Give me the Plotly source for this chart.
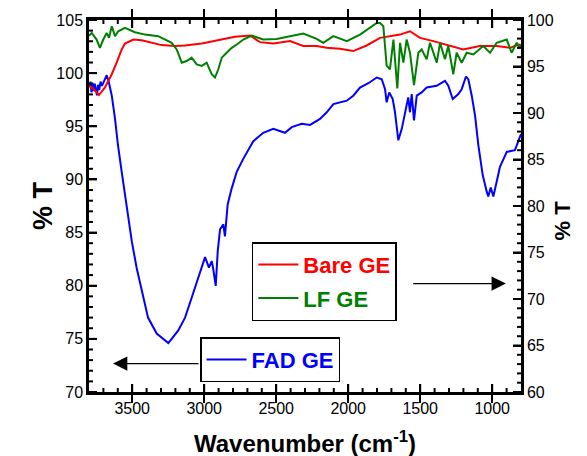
import plotly.graph_objects as go

# ---------------- data ----------------
# FAD GE  -> left axis (% T, 70-105)
wn_fad = [3798, 3790, 3783, 3776, 3768, 3760, 3752, 3745, 3737, 3729, 3720, 3710, 3700, 3690, 3677,
          3665, 3642, 3619, 3599, 3573, 3550, 3529, 3503, 3469, 3434, 3390, 3330, 3249,
          3180, 3133, 3087, 3041, 2994, 2967, 2948, 2937, 2920, 2906, 2890, 2867, 2856,
          2837, 2809, 2774, 2728, 2659, 2590, 2520, 2439, 2392, 2323, 2265, 2196, 2149,
          2103, 2010, 1965, 1918, 1860, 1802, 1767, 1744, 1733, 1715, 1691, 1675, 1652,
          1628, 1599, 1583, 1571, 1559, 1543, 1524, 1490, 1455, 1386, 1328, 1305, 1274,
          1235, 1212, 1182, 1166, 1142, 1119, 1096, 1066, 1038, 1027, 1010, 992, 969,
          946, 899, 865, 842, 812, 800]
t_fad = [98.7, 99.2, 98.2, 99.1, 98.3, 99.0, 98.5, 97.9, 98.9, 98.4, 99.2, 98.8, 99.1, 99.5, 99.8,
         99.3, 97.9, 95.67, 93.24, 90.72, 88.57, 86.33, 84.19, 81.67, 79.52, 77.0, 75.5, 74.6,
         75.8, 77.0, 78.87, 80.73, 82.69, 81.7, 82.32, 81.57, 79.99, 83.25, 85.31, 85.77, 84.65,
         87.64, 89.16, 90.72, 91.96, 93.59, 94.39, 94.76, 94.39, 94.92, 95.23, 95.13, 95.69, 96.32,
         97.09, 97.41, 97.88, 98.65, 99.05, 99.59, 99.43, 98.49, 97.25, 98.19, 97.56, 96.32, 93.68,
         94.76, 96.63, 97.72, 96.32, 98.03, 95.55, 97.88, 98.19, 98.65, 98.81, 99.28, 98.81, 97.56,
         98.03, 98.49, 99.68, 99.43, 97.88, 96.01, 93.21, 90.41, 88.85, 88.39, 89.23, 88.39, 89.79,
         91.19, 92.59, 92.65, 92.75, 93.83, 94.27]

# Bare GE -> right axis (% T, 60-100)
wn_bare = [3800, 3781, 3758, 3731, 3689, 3642, 3608, 3573, 3550, 3492, 3434, 3365, 3295, 3203,
           3133, 3017, 2902, 2786, 2682, 2613, 2520, 2404, 2312, 2219, 2149, 2057, 1965, 1872,
           1779, 1710, 1640, 1571, 1501, 1409, 1293, 1201, 1085, 969, 876, 819, 800]
t_bare = [92.9, 92.75, 92.4, 91.93, 92.75, 94.17, 95.41, 96.83, 97.47, 97.9, 97.83, 97.55, 97.3, 97.2,
          97.26, 97.47, 97.83, 98.19, 98.33, 97.62, 97.47, 97.73, 97.2, 97.2, 97.01, 96.91, 96.66, 97.26,
          98.08, 98.26, 98.43, 98.79, 98.08, 97.73, 97.2, 96.83, 97.2, 97.2, 97.01, 97.37, 97.3]

# LF GE -> right axis (% T, 60-100)
wn_lf = [3800, 3781, 3747, 3724, 3701, 3677, 3661, 3642, 3619, 3597, 3550, 3481, 3411, 3319, 3226,
         3191, 3156, 3122, 3087, 3052, 3017, 2983, 2948, 2925, 2902, 2878, 2844, 2809, 2774,
         2728, 2670, 2590, 2497, 2404, 2312, 2219, 2173, 2103, 2010, 1918, 1849, 1802, 1779,
         1756, 1733, 1710, 1686, 1659, 1640, 1617, 1594, 1571, 1543, 1513, 1490, 1455, 1432,
         1385, 1362, 1328, 1305, 1270, 1247, 1212, 1177, 1131, 1062, 1015, 969, 899, 865,
         830, 812, 800]
t_lf = [98.3, 98.61, 97.9, 97.01, 97.9, 98.61, 98.08, 99.33, 98.26, 98.79, 99.15, 98.69, 98.43, 98.26, 97.55,
        96.83, 95.41, 95.59, 95.95, 95.23, 95.06, 95.41, 94.17, 93.81, 94.7, 95.95, 96.48, 97.01, 97.37,
        97.9, 98.33, 97.9, 97.97, 98.26, 98.54, 97.97, 97.55, 98.26, 97.73, 98.43, 99.15, 99.68, 99.68,
        99.33, 95.09, 94.7, 97.9, 92.64, 97.55, 95.41, 97.9, 96.48, 92.99, 96.48, 96.83, 95.77, 97.55,
        95.41, 97.55, 95.77, 97.2, 94.17, 96.48, 95.41, 96.48, 96.3, 97.2, 96.48, 97.55, 97.9, 96.48,
        97.55, 97.01, 97.3]

x_range = [3800, 800]
y_left_range = [70, 105]
y_right_range = [60, 100]
x_ticks = [3500, 3000, 2500, 2000, 1500, 1000]
yl_ticks = [70, 75, 80, 85, 90, 95, 100, 105]
yr_ticks = [60, 65, 70, 75, 80, 85, 90, 95, 100]
x_minor_ticks = [v for v in range(900, 3800, 100) if v not in x_ticks]
yl_minor_ticks = [v for v in range(71, 105) if v not in yl_ticks]
yr_minor_ticks = [v for v in range(61, 100) if v not in yr_ticks]

RED = "#ff0000"
GREEN = "#008000"
BLUE = "#0000ff"
FONT = "Liberation Sans, Arial, sans-serif"

fig = go.Figure()
fig.add_trace(go.Scatter(x=wn_bare, y=t_bare, mode="lines", yaxis="y2",
                         line=dict(color=RED, width=2),
                         name=f"<b><span style='color:{RED}'>Bare GE</span></b>",
                         legend="legend", legendgroup="a"))
fig.add_trace(go.Scatter(x=wn_lf, y=t_lf, mode="lines", yaxis="y2",
                         line=dict(color=GREEN, width=2),
                         name=f"<b><span style='color:{GREEN}'>LF GE</span></b>",
                         legend="legend", legendgroup="b"))
fig.add_trace(go.Scatter(x=wn_fad, y=t_fad, mode="lines", yaxis="y",
                         line=dict(color=BLUE, width=2),
                         name=f"<b><span style='color:{BLUE}'>FAD GE</span></b>",
                         legend="legend2"))

tickfont = dict(family=FONT, size=16, color="black")
axis_common = dict(showgrid=False, zeroline=False, showline=True, linecolor="black",
                   linewidth=2.5, ticks="inside", tickcolor="black", tickwidth=2,
                   ticklen=8, tickfont=tickfont)

fig.update_layout(
    width=587, height=456,
    margin=dict(l=89, r=66, t=17, b=64),
    paper_bgcolor="white", plot_bgcolor="rgba(0,0,0,0)",
    font=dict(family=FONT, color="black"),
    xaxis=dict(range=x_range, tickvals=x_ticks, mirror="allticks",
               tickformat="d", **axis_common),
    yaxis=dict(range=y_left_range, tickvals=yl_ticks, mirror=True, **axis_common),
    yaxis2=dict(range=y_right_range, tickvals=yr_ticks, overlaying="y", side="right",
                anchor="x", **axis_common),
    legend=dict(x=0.377, y=0.403, xanchor="left", yanchor="top",
                bordercolor="black", borderwidth=1.5, bgcolor="white",
                font=dict(family=FONT, size=22), tracegroupgap=2,
                itemwidth=40),
    legend2=dict(x=0.257, y=0.147, xanchor="left", yanchor="top",
                 bordercolor="black", borderwidth=1.5, bgcolor="white",
                 font=dict(family=FONT, size=22), itemwidth=40),
    showlegend=True,
)

# tick marks drawn inside the frame (placed through the axes' own scales)
TL = dict(color="black", width=2)
for vals, ln in ((x_ticks, 8), (x_minor_ticks, 4)):
    for v in vals:
        fig.add_shape(type="line", xref="x", yref="y domain", x0=v, x1=v,
                      ysizemode="pixel", yanchor=0, y0=0, y1=ln, line=TL)
        fig.add_shape(type="line", xref="x", yref="y domain", x0=v, x1=v,
                      ysizemode="pixel", yanchor=1, y0=0, y1=-ln, line=TL)
for vals, ln in ((yl_ticks, 8), (yl_minor_ticks, 4)):
    for v in vals:
        fig.add_shape(type="line", xref="x domain", yref="y", y0=v, y1=v,
                      xsizemode="pixel", xanchor=0, x0=0, x1=ln, line=TL)
for vals, ln in ((yr_ticks, 8), (yr_minor_ticks, 4)):
    for v in vals:
        fig.add_shape(type="line", xref="x domain", yref="y2", y0=v, y1=v,
                      xsizemode="pixel", xanchor=1, x0=0, x1=-ln, line=TL)

# axis titles
fig.add_annotation(text="<b>% T</b>", xref="paper", yref="paper", x=0, y=0.5,
                   xshift=-63, yshift=0, textangle=-90, showarrow=False,
                   font=dict(family=FONT, size=27, color="black"))
fig.add_annotation(text="<b>% T</b>", xref="paper", yref="paper", x=1, y=0.46,
                   xshift=56, textangle=-90, showarrow=False,
                   font=dict(family=FONT, size=22, color="black"))
fig.add_annotation(text="<b>Wavenumber (cm<sup>-1</sup>)</b>", xref="paper", yref="paper",
                   x=0.5, y=0, yshift=-50, yanchor="middle", showarrow=False,
                   font=dict(family=FONT, size=24, color="black"))

# arrows pointing to the respective axes
fig.add_annotation(xref="x domain", yref="y domain", axref="x domain", ayref="y domain",
                   x=0.965, y=0.2915, ax=0.747, ay=0.2915, text="", showarrow=True,
                   arrowhead=2, arrowsize=2.2, arrowwidth=1.3, arrowcolor="black")
fig.add_annotation(xref="x domain", yref="y domain", axref="x domain", ayref="y domain",
                   x=0.0556, y=0.0765, ax=0.257, ay=0.0765, text="", showarrow=True,
                   arrowhead=2, arrowsize=2.2, arrowwidth=1.3, arrowcolor="black")

fig.write_html("out.html")
